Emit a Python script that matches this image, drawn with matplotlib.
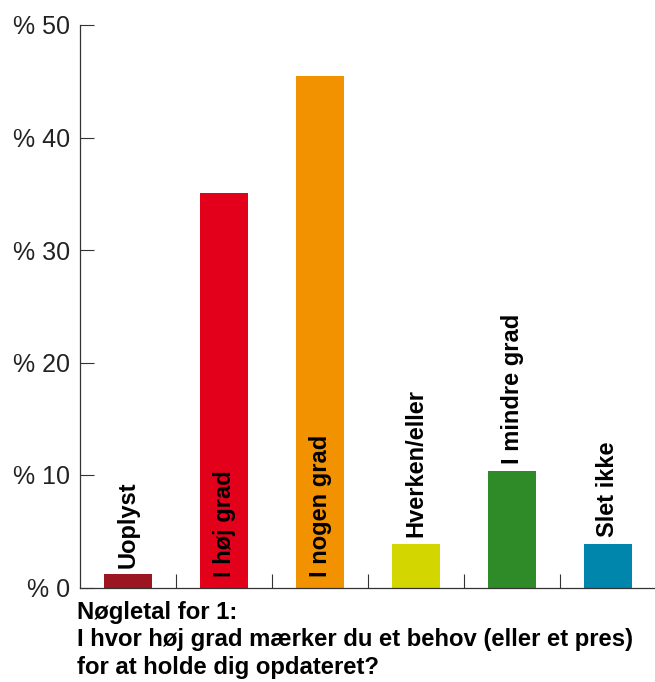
import matplotlib
matplotlib.use('Agg')
import matplotlib.pyplot as plt

plt.rcParams['font.family'] = ['Liberation Sans', 'DejaVu Sans']

# Data
categories = ['Uoplyst', 'I høj grad', 'I nogen grad', 'Hverken/eller', 'I mindre grad', 'Slet ikke']
values = [1.2, 35.1, 45.5, 3.9, 10.4, 3.9]
colors = ['#9B1620', '#E2001A', '#F39200', '#D4D600', '#2F8A28', '#0085AD']
yticks = [0, 10, 20, 30, 40, 50]
ytick_labels = ['% 0', '% 10', '% 20', '% 30', '% 40', '% 50']
title = 'Nøgletal for 1:\nI hvor høj grad mærker du et behov (eller et pres)\nfor at holde dig opdateret?'

fig = plt.figure(figsize=(6.55, 6.82), dpi=100)
ax = fig.add_axes([80 / 655, 94.5 / 682, 576 / 655, 562.5 / 682])

x = list(range(len(categories)))
ax.bar(x, values, width=0.5, color=colors, zorder=2)

# category labels: inside the bar for tall bars, above it otherwise
for xi, v, name in zip(x, values, categories):
    if v > 20:
        ax.annotate(name, (xi, 0), xytext=(0, 7.5), textcoords='offset points',
                    rotation=90, ha='center', va='bottom', fontsize=17,
                    fontweight='bold', color='black')
    else:
        ax.annotate(name, (xi, v), xytext=(0, 4.5), textcoords='offset points',
                    rotation=90, ha='center', va='bottom', fontsize=17,
                    fontweight='bold', color='black')

ax.set_xlim(-0.5, 5.5)
ax.set_ylim(0, 50)
ax.set_yticks(yticks)
ax.set_yticklabels(ytick_labels, fontsize=18, color='#222222')
ax.set_xticks([i + 0.5 for i in x[:-1]])
ax.set_xticklabels([])

ax.tick_params(axis='y', direction='in', length=10, width=0.8, color='#333333', pad=7)
ax.tick_params(axis='x', direction='in', length=10, width=0.8, color='#333333')

for side in ['top', 'right']:
    ax.spines[side].set_visible(False)
for side in ['left', 'bottom']:
    ax.spines[side].set_color('#333333')
    ax.spines[side].set_linewidth(0.9)

fig.text(77 / 655, 1 - 601 / 682, title, ha='left', va='top', fontsize=17.2,
         fontweight='bold', color='black', linespacing=1.24)

fig.savefig('out.png', dpi=100)
